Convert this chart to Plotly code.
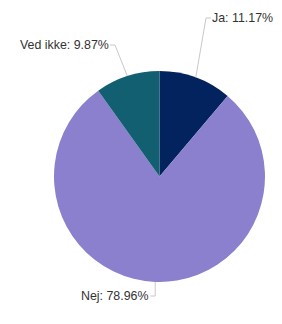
import math
import plotly.graph_objects as go

# Data
categories = ["Ja", "Nej", "Ved ikke"]
values = [11.17, 78.96, 9.87]
colors = ["#03235e", "#8a80cd", "#135f72"]

# Layout constants (pixels, in page coordinates; page body has an 8px margin)
OFF = 8
W, H = 282 - OFF, 324 - OFF
CX, CY, R = 159.5 - OFF, 176.5 - OFF, 105.5
ML, MT = CX - R, CY - R
MR, MB = W - (CX + R), H - (CY + R)

# label elbow positions (page px) and horizontal tick direction, per category
elbows = {"Ja": (206, 18, 1), "Nej": (None, 296, -1), "Ved ikke": (115, 45, -1)}
TICK = 5

def to_paper(px, py):
    px, py = px - OFF, py - OFF
    return (px - ML) / (2 * R), (H - MB - py) / (2 * R)

fig = go.Figure(go.Pie(
    labels=categories, values=values, sort=False, direction="clockwise",
    rotation=0, marker=dict(colors=colors, line=dict(width=0)),
    textinfo="none", hoverinfo="label+percent", showlegend=False,
))

shapes, annotations = [], []
total = sum(values)
cum = 0.0
for cat, v in zip(categories, values):
    mid = (cum + v / 2) / total * 2 * math.pi
    cum += v
    sx = CX + OFF + R * math.sin(mid)
    sy = CY + OFF - R * math.cos(mid)
    ex, ey, d = elbows[cat]
    if ex is None:
        ex = sx
    tx = ex + d * TICK
    pts = [to_paper(sx, sy), to_paper(ex, ey), to_paper(tx, ey)]
    path = "M {} {} L {} {} L {} {}".format(*pts[0], *pts[1], *pts[2])
    shapes.append(dict(type="path", path=path, xref="paper", yref="paper",
                       line=dict(color="#c8c8c8", width=1)))
    ax, ay = to_paper(tx, ey)
    annotations.append(dict(
        x=ax, y=ay, xref="paper", yref="paper", showarrow=False,
        text=f"{cat}: {v:.2f}%", xanchor="left" if d > 0 else "right",
        yanchor="middle", borderpad=0,
        font=dict(family="Liberation Sans, Arial", size=12.4, color="#333333"),
    ))

fig.update_layout(
    width=W, height=H,
    margin=dict(l=ML, r=MR, t=MT, b=MB, pad=0),
    paper_bgcolor="white", plot_bgcolor="white",
    shapes=shapes, annotations=annotations,
)

fig.write_html("out.html")
